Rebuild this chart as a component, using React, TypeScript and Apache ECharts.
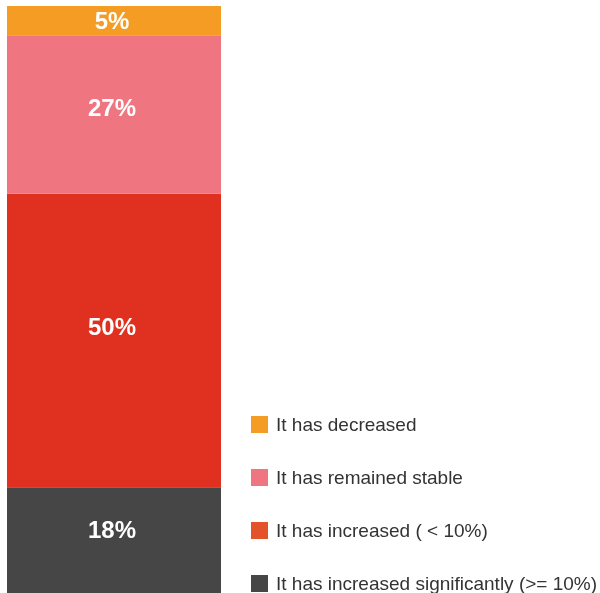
import React, { useEffect, useRef } from "react";
import * as echarts from "echarts";

const categories = ["All"];
const seriesNames = [
  "It has increased significantly (>= 10%)",
  "It has increased ( < 10%)",
  "It has remained stable",
  "It has decreased",
];
const significantValues = [18];
const increasedValues = [50];
const stableValues = [27];
const decreasedValues = [5];

const barColors = ["#464646", "#E03120", "#EF7680", "#F59C24"];
const legendColors = ["#464646", "#E4522C", "#EF7680", "#F59C24"];
const labelOffsets = [
  [-2, -11],
  [-2, -14],
  [-2, -7],
  [-2, 0],
];

export default function App() {
  const ref = useRef<HTMLDivElement>(null);
  useEffect(() => {
    if (!ref.current) return;
    const chart = echarts.init(ref.current, null, { renderer: "svg" });
    const valuesList = [significantValues, increasedValues, stableValues, decreasedValues];
    const series = seriesNames.map((name, i) => ({
      name,
      type: "bar",
      stack: "total",
      barWidth: "100%",
      data: valuesList[i],
      itemStyle: { color: barColors[i] },
      label: {
        show: true,
        position: "inside",
        offset: labelOffsets[i],
        formatter: "{c}%",
        color: "#ffffff",
        fontSize: 24,
        fontWeight: "bold",
        fontFamily: "Liberation Sans, Arial, sans-serif",
      },
    }));
    chart.setOption({
      animation: false,
      grid: { left: 7, right: 379, top: 6, bottom: -2 },
      xAxis: {
        type: "category",
        data: categories,
        show: false,
      },
      yAxis: { type: "value", min: 0, max: 100, show: false },
      legend: {
        orient: "vertical",
        left: 251,
        top: 415,
        height: 200,
        padding: 0,
        itemWidth: 17,
        itemHeight: 17,
        itemGap: 34,
        icon: "rect",
        data: [3, 2, 1, 0].map((i) => ({
          name: seriesNames[i],
          itemStyle: { color: legendColors[i] },
        })),
        textStyle: {
          color: "#333333",
          fontSize: 19,
          lineHeight: 17,
          padding: [0, 0, 0, 3],
          fontFamily: "Liberation Sans, Arial, sans-serif",
        },
        selectedMode: false,
      },
      series,
    });
    return () => chart.dispose();
  }, []);
  return (
    <div
      ref={ref}
      style={{ position: "fixed", left: 0, top: 0, width: 600, height: 593 }}
    />
  );
}
